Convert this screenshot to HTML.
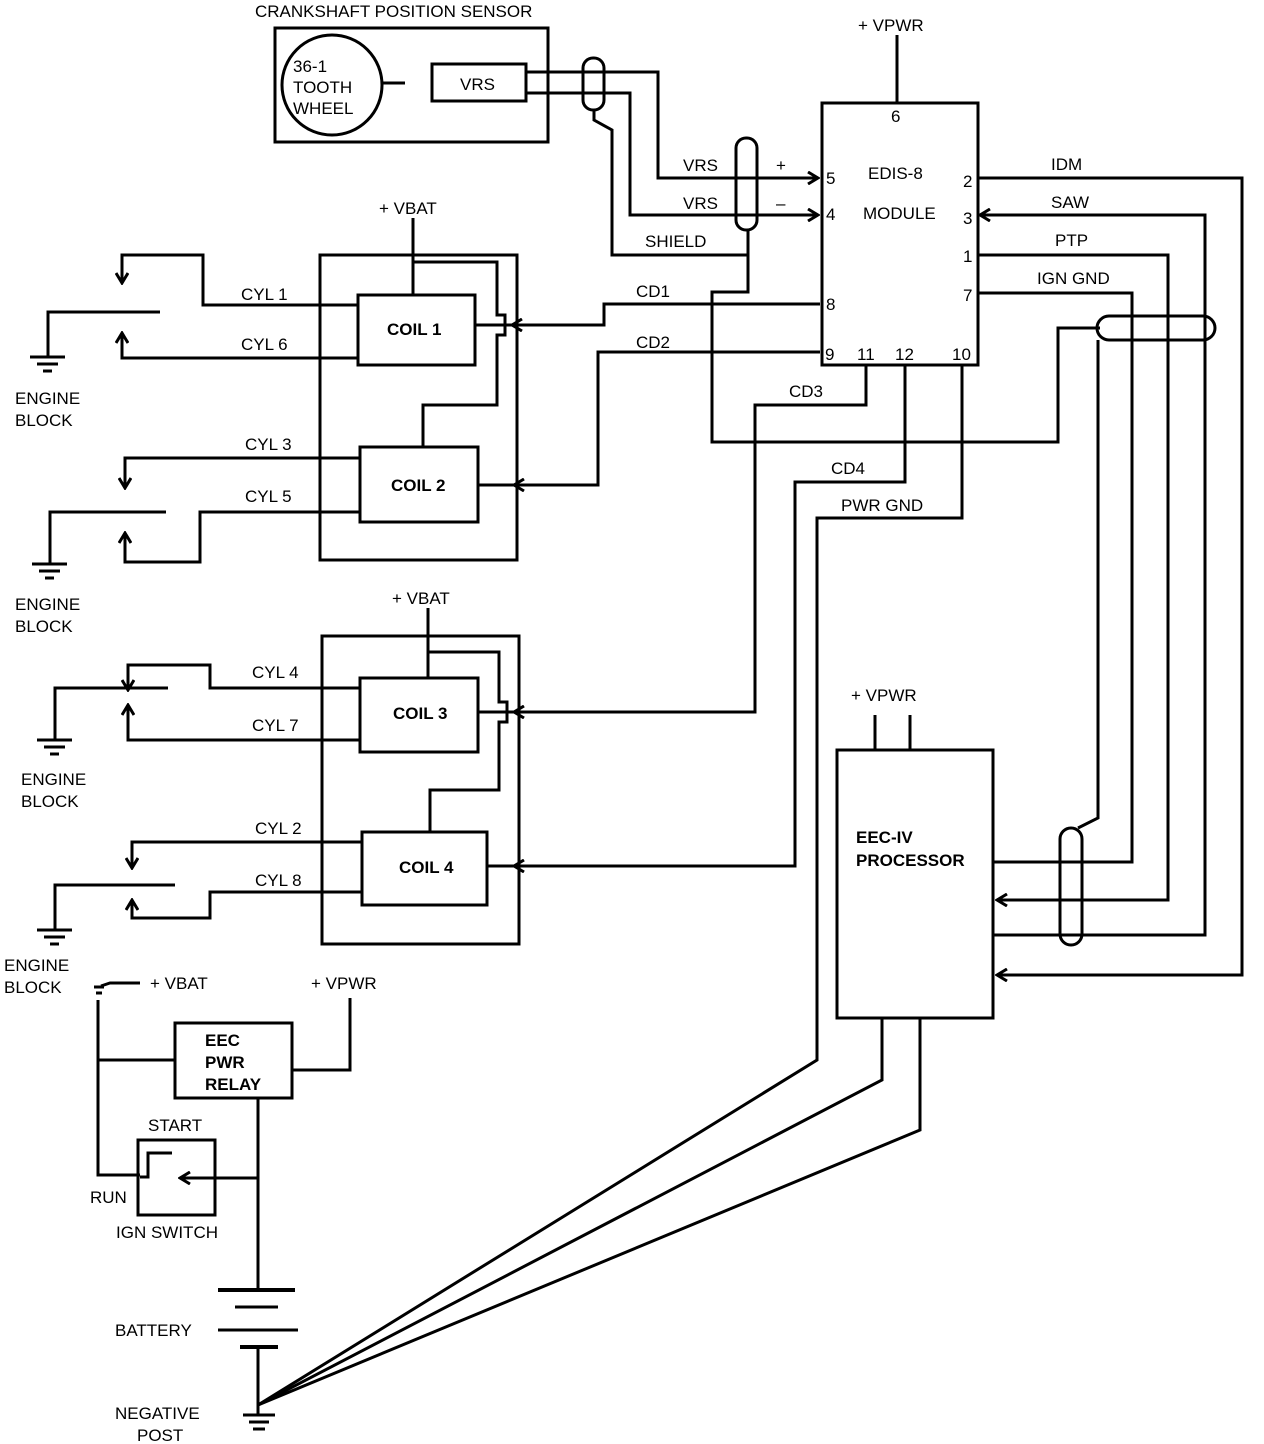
<!DOCTYPE html>
<html><head><style>body{margin:0;background:#fff}svg{display:block}text{font-family:"Liberation Sans",sans-serif;font-size:17px;fill:#000}.b{font-weight:bold}</style></head><body>
<svg width="1264" height="1444" viewBox="0 0 1264 1444">
<defs><marker id="a" markerWidth="14" markerHeight="14" refX="12" refY="7" orient="auto" markerUnits="userSpaceOnUse"><path d="M2,1 L12,7 L2,13" fill="none" stroke="#000" stroke-width="3"/></marker></defs>
<g fill="none" stroke="#000" stroke-width="3">
<rect x="275" y="28" width="273" height="114"/>
<circle cx="332" cy="85" r="50"/>
<line x1="383" y1="83" x2="405" y2="83"/>
<rect x="432" y="64" width="94" height="37"/>
<polyline points="526,72 658,72 658,178 818,178" marker-end="url(#a)"/>
<polyline points="526,93 630,93 630,215 818,215" marker-end="url(#a)"/>
<rect x="583" y="58" width="21" height="52" rx="10"/>
<polyline points="594,110 594,120 612,130 612,255 748,255"/>
<polyline points="748,230 748,292 712,292 712,442 1058,442 1058,328 1100,328"/>
<rect x="736" y="138" width="21" height="92" rx="10"/>
<rect x="822" y="103" width="156" height="262"/>
<line x1="897" y1="35" x2="897" y2="103"/>
<polyline points="978,178 1242,178 1242,975 997,975" marker-end="url(#a)"/>
<polyline points="993,935 1205,935 1205,215 980,215" marker-end="url(#a)"/>
<polyline points="978,255 1168,255 1168,900 997,900" marker-end="url(#a)"/>
<polyline points="978,293 1132,293 1132,862 993,862"/>
<rect x="1097" y="316" width="118" height="24" rx="12"/>
<polyline points="1098,340 1098,818 1078,828"/>
<rect x="1060" y="828" width="22" height="117" rx="11"/>
<polyline points="820,304 604,304 604,325 512,325" marker-end="url(#a)"/>
<polyline points="820,352 598,352 598,485 514,485" marker-end="url(#a)"/>
<polyline points="866,365 866,405 755,405 755,712 514,712" marker-end="url(#a)"/>
<polyline points="905,365 905,482 795,482 795,866 514,866" marker-end="url(#a)"/>
<polyline points="962,365 962,518 817,518 817,1060 258,1405"/>
<rect x="837" y="750" width="156" height="268"/>
<line x1="875" y1="715" x2="875" y2="750"/><line x1="910" y1="715" x2="910" y2="750"/>
<polyline points="882,1018 882,1080 258,1405"/>
<polyline points="920,1018 920,1130 258,1405"/>
<rect x="320" y="255" width="197" height="305"/>
<line x1="413" y1="218" x2="413" y2="295"/>
<rect x="358" y="295" width="117" height="70"/>
<rect x="360" y="447" width="118" height="75"/>
<polyline points="413,262 497,262 497,315 505,315 505,335 497,335 497,405 423,405 423,447"/>
<line x1="475" y1="325" x2="512" y2="325"/>
<line x1="478" y1="485" x2="514" y2="485"/>
<polyline points="358,305 203,305 203,255 122,255 122,283" marker-end="url(#a)"/>
<polyline points="358,358 122,358 122,333" marker-end="url(#a)"/>
<polyline points="160,312 48,312 48,357"/>
<polyline points="360,458 125,458 125,488" marker-end="url(#a)"/>
<polyline points="360,512 200,512 200,562 125,562 125,533" marker-end="url(#a)"/>
<polyline points="166,512 50,512 50,564"/>
<rect x="322" y="636" width="197" height="308"/>
<line x1="428" y1="608" x2="428" y2="678"/>
<rect x="360" y="678" width="118" height="74"/>
<rect x="362" y="832" width="125" height="73"/>
<polyline points="428,652 499,652 499,702 507,702 507,722 499,722 499,790 430,790 430,832"/>
<line x1="478" y1="712" x2="514" y2="712"/>
<line x1="487" y1="866" x2="514" y2="866"/>
<polyline points="360,688 210,688 210,665 128,665 128,690" marker-end="url(#a)"/>
<polyline points="360,740 128,740 128,705" marker-end="url(#a)"/>
<polyline points="168,688 55,688 55,740"/>
<polyline points="362,842 132,842 132,868" marker-end="url(#a)"/>
<polyline points="362,892 210,892 210,918 132,918 132,900" marker-end="url(#a)"/>
<polyline points="175,885 55,885 55,930"/>
<g stroke-width="3">
<path d="M30,357h35M37,364h21M43,371h9"/>
<path d="M32,564h35M39,571h21M45,578h9"/>
<path d="M37,740h35M44,747h21M50,754h9"/>
<path d="M37,930h35M44,937h21M50,944h9"/>
<path d="M243,1415h32M249,1422h20M253,1429h12"/>
</g>
<path d="M94,987h10M96,993h6M101,986 L110,983 H140"/>
<polyline points="98,1000 98,1175 140,1175"/>
<line x1="98" y1="1060" x2="175" y2="1060"/>
<rect x="175" y="1023" width="117" height="75"/>
<polyline points="292,1070 350,1070 350,998"/>
<line x1="258" y1="1098" x2="258" y2="1288"/>
<rect x="138" y="1140" width="77" height="75"/>
<polyline points="140,1177 148,1177 148,1153 172,1153"/>
<line x1="258" y1="1178" x2="180" y2="1178" marker-end="url(#a)"/>
<line x1="218" y1="1290" x2="295" y2="1290" stroke-width="4"/>
<line x1="235" y1="1307" x2="278" y2="1307"/>
<line x1="218" y1="1330" x2="298" y2="1330"/>
<line x1="240" y1="1347" x2="278" y2="1347" stroke-width="4"/>
<line x1="258" y1="1347" x2="258" y2="1415"/>
</g>
<text x="255" y="17">CRANKSHAFT POSITION SENSOR</text>
<text x="293" y="72">36-1</text><text x="293" y="93">TOOTH</text><text x="293" y="114">WHEEL</text>
<text x="460" y="90">VRS</text>
<text x="683" y="171">VRS</text><text x="683" y="209">VRS</text><text x="776" y="171">+</text><text x="776" y="209">–</text>
<text x="645" y="247">SHIELD</text>
<text x="858" y="31">+ VPWR</text><text x="891" y="122">6</text>
<text x="826" y="184">5</text><text x="826" y="220">4</text>
<text x="868" y="179">EDIS-8</text><text x="863" y="219">MODULE</text>
<text x="963" y="187">2</text><text x="963" y="224">3</text><text x="963" y="262">1</text><text x="963" y="301">7</text>
<text x="826" y="310">8</text><text x="825" y="360">9</text><text x="857" y="360">11</text><text x="895" y="360">12</text><text x="952" y="360">10</text>
<text x="1051" y="170">IDM</text><text x="1051" y="208">SAW</text><text x="1055" y="246">PTP</text><text x="1037" y="284">IGN GND</text>
<text x="636" y="297">CD1</text><text x="636" y="348">CD2</text><text x="789" y="397">CD3</text><text x="831" y="474">CD4</text><text x="841" y="511">PWR GND</text>
<text x="379" y="214">+ VBAT</text><text x="392" y="604">+ VBAT</text>
<text class="b" x="387" y="335">COIL 1</text><text class="b" x="391" y="491">COIL 2</text>
<text class="b" x="393" y="719">COIL 3</text><text class="b" x="399" y="873">COIL 4</text>
<text x="241" y="300">CYL 1</text><text x="241" y="350">CYL 6</text>
<text x="245" y="450">CYL 3</text><text x="245" y="502">CYL 5</text>
<text x="252" y="678">CYL 4</text><text x="252" y="731">CYL 7</text>
<text x="255" y="834">CYL 2</text><text x="255" y="886">CYL 8</text>
<text x="15" y="404">ENGINE</text><text x="15" y="426">BLOCK</text>
<text x="15" y="610">ENGINE</text><text x="15" y="632">BLOCK</text>
<text x="21" y="785">ENGINE</text><text x="21" y="807">BLOCK</text>
<text x="4" y="971">ENGINE</text><text x="4" y="993">BLOCK</text>
<text x="851" y="701">+ VPWR</text>
<text class="b" x="856" y="843">EEC-IV</text><text class="b" x="856" y="866">PROCESSOR</text>
<text x="150" y="989">+ VBAT</text><text x="311" y="989">+ VPWR</text>
<text class="b" x="205" y="1046">EEC</text><text class="b" x="205" y="1068">PWR</text><text class="b" x="205" y="1090">RELAY</text>
<text x="148" y="1131">START</text><text x="90" y="1203">RUN</text><text x="116" y="1238">IGN SWITCH</text>
<text x="115" y="1336">BATTERY</text>
<text x="115" y="1419">NEGATIVE</text><text x="137" y="1441">POST</text>
</svg>
</body></html>
